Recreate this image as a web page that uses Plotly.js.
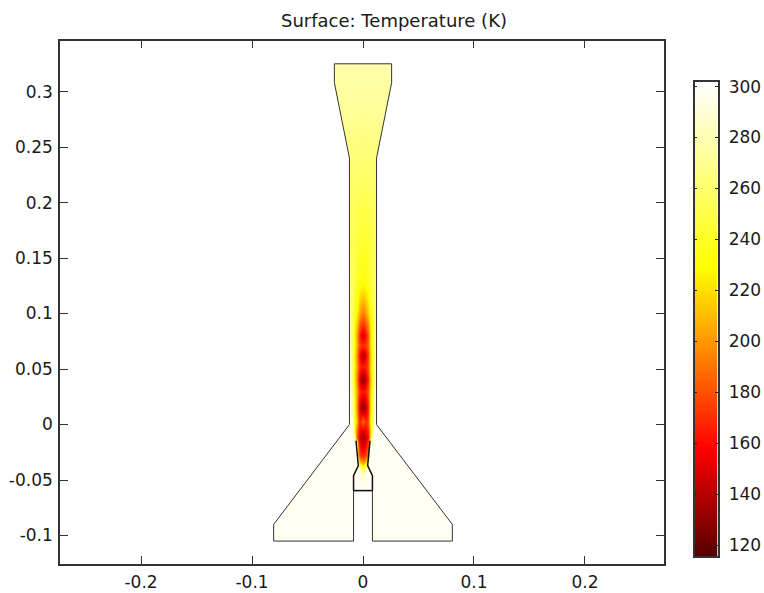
<!DOCTYPE html>
<html><head><meta charset="utf-8">
<script src="https://cdn.plot.ly/plotly-3.0.1.min.js"></script>
<style>html,body{margin:0;padding:0;background:#fff}#c{width:764px;height:593px}</style>
</head><body><div id="c"></div>
<script>
// half-width offsets (m) of the temperature samples; the field is mirrored about x = 0
const offsets = [0, .0015, .003, .0045, .006, .0075, .009, .0105, .0122, .083, .084];
const rowY = [-.106, -.105, -.06, -.046, -.04, -.034, -.028, -.02, -.012, -.006, .003, .015, .03, .041, .052, .062, .071, .08, .09, .1, .115, .13, .16, .2, .24, .28, .325, .327];
const tempRows = [
 [298,298,298,298,298,298,298,298,298,298,298],
 [298,298,298,298,298,298,298,298,298,298,298],
 [299,299,299,299,299,298,298,298,298,298,298],
 [292,293,296,298,298,298,298,298,298,298,298],
 [250,260,290,298,298,298,298,298,298,298,298],
 [200,205,220,298,298,298,298,298,298,298,298],
 [170,172,180,200,298,298,298,298,298,298,298],
 [150,155,165,185,298,298,298,298,298,298,298],
 [135,140,150,165,190,270,298,298,298,298,298],
 [148,152,160,172,195,240,285,298,298,298,298],
 [190,175,170,185,215,240,270,292,297,298,298],
 [128,135,150,172,205,235,265,288,297,297,297],
 [165,165,172,185,208,232,258,282,295,295,295],
 [128,135,150,172,200,224,245,272,294,294,294],
 [165,166,172,186,206,228,248,272,292,292,292],
 [138,145,160,178,204,226,246,268,288,288,288],
 [170,172,178,190,210,230,248,266,284,284,284],
 [148,155,168,185,208,230,246,264,280,280,280],
 [172,176,186,200,216,232,246,262,276,276,276],
 [192,196,206,216,228,238,248,260,272,272,272],
 [214,217,222,230,238,245,252,260,268,268,268],
 [232,234,236,240,244,248,253,258,264,264,264],
 [241,242,243,245,247,250,252,255,258,258,258],
 [251,251,252,253,254,255,256,257,258,258,258],
 [262,262,262,262,263,263,263,264,264,264,264],
 [272,272,272,272,272,272,272,272,272,272,272],
 [279,279,279,279,279,279,279,279,279,279,279],
 [279,279,279,279,279,279,279,279,279,279,279]
];
// half of the domain outline, from the bottom outer corner round to the top centre
const outerHalfX = [.0805, .0805, .0122, .0122, .0258, .0258];
const outerHalfY = [-.105, -.09, 0, .24, .308, .325];
// slot under the plenum
const slotHalfX = [.0085, .0085];
const slotHalfY = [-.105, -.0595];
// inner nozzle wall, plenum corner up to the open nozzle exit
const nozzleHalfX = [.0085, .0085, .0042, .0063];
const nozzleHalfY = [-.0595, -.046, -.037, -.0145];
const maskX = [-.09, .09];
const maskY = [-.11, .33];

const xTickVals = [-.2, -.1, 0, .1, .2];
const xTickText = ['-0.2', '-0.1', '0', '0.1', '0.2'];
const yTickVals = [-.1, -.05, 0, .05, .1, .15, .2, .25, .3];
const yTickText = ['-0.1', '-0.05', '0', '0.05', '0.1', '0.15', '0.2', '0.25', '0.3'];
const barTickVals = [120, 140, 160, 180, 200, 220, 240, 260, 280, 300];
const tempMin = 115.7, tempMax = 301.8;
const barX = [0, 1];
const barLevels = [tempMin, tempMax];
const heatScale = [[0, 'rgb(85,0,0)'], [.227, 'rgb(255,0,0)'], [.609, 'rgb(255,255,0)'], [1, 'rgb(255,255,255)']];

const neg = a => a.map(v => -v);
const gridX = neg(offsets.slice(1)).reverse().concat(offsets);
const gridZ = tempRows.map(r => r.slice(1).reverse().concat(r));

// closed outline, clockwise
const outlineX = neg(outerHalfX).concat(outerHalfX.slice().reverse(), slotHalfX, neg(slotHalfX).reverse(), [-outerHalfX[0]]);
const outlineY = outerHalfY.concat(outerHalfY.slice().reverse(), slotHalfY, slotHalfY.slice().reverse(), [outerHalfY[0]]);

const maskPolyX = [maskX[0], maskX[1], maskX[1], maskX[0], maskX[0]].concat(outlineX, [maskX[0]]);
const maskPolyY = [maskY[0], maskY[0], maskY[1], maskY[1], maskY[0]].concat(outlineY, [maskY[0]]);

const W = 764, H = 593;
const font = {family: 'DejaVu Sans', size: 17, color: '#1a1a1a'};
const frame = {showline: true, linecolor: '#333', linewidth: 1.5, mirror: 'ticks', ticks: 'inside', ticklen: 8, tickwidth: 1.3,
  tickcolor: '#333', showgrid: false, zeroline: false, tickmode: 'array', tickfont: font};
const noHover = {hoverinfo: 'skip', showlegend: false};

const traces = [
 Object.assign({type: 'heatmap', x: gridX, y: rowY, z: gridZ, zsmooth: 'best', zmin: tempMin, zmax: tempMax, colorscale: heatScale, showscale: false}, noHover),
 Object.assign({type: 'scatter', mode: 'lines', x: maskPolyX, y: maskPolyY, fill: 'toself', fillcolor: '#fff', line: {width: 0, color: 'rgba(0,0,0,0)'}}, noHover),
 Object.assign({type: 'scatter', mode: 'lines', x: outlineX, y: outlineY, line: {color: '#333', width: 1}}, noHover),
 Object.assign({type: 'scatter', mode: 'lines', x: nozzleHalfX, y: nozzleHalfY, line: {color: '#111', width: 1.5}}, noHover),
 Object.assign({type: 'scatter', mode: 'lines', x: neg(nozzleHalfX), y: nozzleHalfY, line: {color: '#111', width: 1.5}}, noHover),
 Object.assign({type: 'scatter', mode: 'lines', x: [slotHalfX[1], -slotHalfX[1]], y: [slotHalfY[1], slotHalfY[1]], line: {color: '#111', width: 1.5}}, noHover),
 Object.assign({type: 'heatmap', xaxis: 'x2', yaxis: 'y2', x: barX, y: barLevels, z: barLevels.map(v => [v, v]), zsmooth: 'best', zmin: tempMin, zmax: tempMax, colorscale: heatScale, showscale: false}, noHover)
];

const layout = {
  width: W, height: H, showlegend: false, paper_bgcolor: '#fff', plot_bgcolor: '#fff',
  margin: {l: 0, r: 0, t: 0, b: 0},
  title: {text: 'Surface: Temperature (K)', font: {family: 'DejaVu Sans', size: 18, color: '#1a1a1a'},
    xref: 'container', x: 394 / W, xanchor: 'center', yref: 'container', y: 1 - 21 / H, yanchor: 'middle'},
  xaxis: Object.assign({}, frame, {domain: [60 / W, 664 / W], anchor: 'y', range: [-.273, .2712], tickvals: xTickVals, ticktext: xTickText, ticklabelstandoff: 2}),
  yaxis: Object.assign({}, frame, {domain: [1 - 563.5 / H, 1 - 40.5 / H], anchor: 'x', range: [-.1252, .346], tickvals: yTickVals, ticktext: yTickText, ticklabelstandoff: 2}),
  xaxis2: {domain: [694.5 / W, 717.5 / W], anchor: 'y2', range: [0, 1], showline: true, linecolor: '#333', linewidth: 1.5, mirror: true, ticks: '', showticklabels: false, showgrid: false, zeroline: false},
  yaxis2: Object.assign({}, frame, {domain: [1 - 556 / H, 1 - 82 / H], anchor: 'x2', side: 'right', range: [tempMin, tempMax], tickvals: barTickVals, ticktext: barTickVals.map(String), ticklen: 3, tickwidth: 1.2, tickcolor: '#222', mirror: 'ticks', ticklabelstandoff: 6})
};
Plotly.newPlot('c', traces, layout, {displayModeBar: false, responsive: false});
</script></body></html>
